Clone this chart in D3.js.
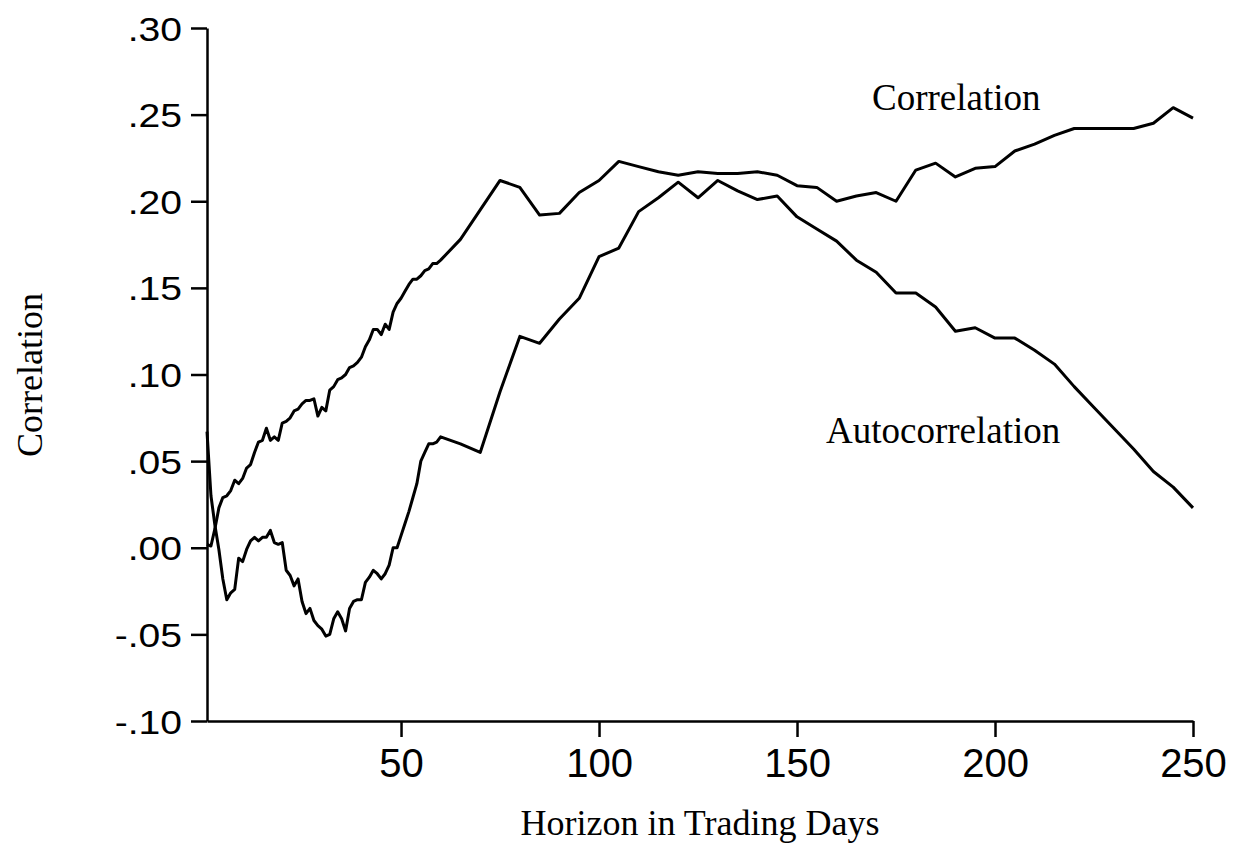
<!DOCTYPE html>
<html lang="en">
  <head>
    <meta charset="utf-8">
    <title>Correlation by horizon</title>
    <style>
      body { margin: 0; background: #fff; }
      svg { display: block; }
    </style>
  </head>
  <body>
    <div id="chart"></div>
  </body>
  <script src="https://cdnjs.cloudflare.com/ajax/libs/d3/7.8.5/d3.min.js"></script>
  <script type="text/javascript">

    // horizon in trading days: daily up to 60, then every 5 days
    const horizons = [
      1, 2, 3, 4, 5, 6, 7, 8, 9, 10, 11, 12, 13, 14, 15, 16, 17, 18, 19, 20,
      21, 22, 23, 24, 25, 26, 27, 28, 29, 30, 31, 32, 33, 34, 35, 36, 37, 38, 39, 40,
      41, 42, 43, 44, 45, 46, 47, 48, 49, 50, 51, 52, 53, 54, 55, 56, 57, 58, 59, 60,
      65, 70, 75, 80, 85, 90, 95, 100, 105, 110, 115, 120, 125, 130, 135, 140, 145, 150,
      155, 160, 165, 170, 175, 180, 185, 190, 195, 200, 205, 210, 215, 220, 225, 230,
      235, 240, 245, 250
    ]

    const correlation = [
      0.002, 0.001, 0.011, 0.023, 0.029, 0.030, 0.033, 0.039, 0.037, 0.040,
      0.046, 0.048, 0.055, 0.061, 0.062, 0.069, 0.062, 0.064, 0.062, 0.072,
      0.073, 0.075, 0.079, 0.080, 0.083, 0.085, 0.085, 0.086, 0.076, 0.081,
      0.079, 0.091, 0.093, 0.097, 0.098, 0.100, 0.104, 0.105, 0.107, 0.110,
      0.116, 0.120, 0.126, 0.126, 0.123, 0.129, 0.126, 0.136, 0.141, 0.144,
      0.148, 0.152, 0.155, 0.155, 0.157, 0.160, 0.161, 0.164, 0.164, 0.166,
      0.178, 0.195, 0.212, 0.208, 0.192, 0.193, 0.205, 0.212, 0.223, 0.220,
      0.217, 0.215, 0.217, 0.216, 0.216, 0.217, 0.215, 0.209, 0.208, 0.200,
      0.203, 0.205, 0.200, 0.218, 0.222, 0.214, 0.219, 0.220, 0.229, 0.233,
      0.238, 0.242, 0.242, 0.242, 0.242, 0.245, 0.254, 0.248
    ]

    const autocorrelation = [
      0.067, 0.030, 0.013, -0.001, -0.018, -0.030, -0.026, -0.024, -0.006, -0.008,
      -0.001, 0.004, 0.006, 0.004, 0.006, 0.006, 0.010, 0.003, 0.002, 0.003,
      -0.013, -0.016, -0.022, -0.018, -0.031, -0.038, -0.035, -0.042, -0.045, -0.047,
      -0.051, -0.050, -0.041, -0.037, -0.041, -0.048, -0.035, -0.031, -0.030, -0.030,
      -0.020, -0.017, -0.013, -0.015, -0.018, -0.015, -0.010, 0.000, 0.000, 0.007,
      0.014, 0.021, 0.029, 0.037, 0.050, 0.055, 0.060, 0.060, 0.061, 0.064,
      0.060, 0.055, 0.090, 0.122, 0.118, 0.132, 0.144, 0.168, 0.173, 0.194,
      0.202, 0.211, 0.202, 0.212, 0.206, 0.201, 0.203, 0.191, 0.184, 0.177,
      0.166, 0.159, 0.147, 0.147, 0.139, 0.125, 0.127, 0.121, 0.121, 0.114,
      0.106, 0.093, 0.081, 0.069, 0.057, 0.044, 0.035, 0.023
    ]

    const xTicks = [50, 100, 150, 200, 250]
    const yTicks = [-0.10, -0.05, 0.00, 0.05, 0.10, 0.15, 0.20, 0.25, 0.30]

    const width = 1235
    const height = 847
    const margin = { top: 28, right: 42, bottom: 126, left: 207 }

    const svg = d3.select('#chart')
      .append('svg')
      .attr('width', width)
      .attr('height', height)

    const x = d3.scaleLinear()
      .domain([1, 250])
      .range([margin.left, width - margin.right])

    const y = d3.scaleLinear()
      .domain([-0.10, 0.30])
      .range([height - margin.bottom, margin.top])

    // ".30", "-.10" style labels with a plain hyphen
    const fmtY = d => d3.format('.2f')(d).replace('\u2212', '-').replace('0.', '.')

    // y axis
    const yAxis = svg.append('g')
      .attr('transform', `translate(${margin.left},0)`)
      .call(d3.axisLeft(y).tickValues(yTicks).tickFormat(fmtY).tickSize(16).tickSizeOuter(0))

    yAxis.selectAll('path, line').attr('stroke', '#000').attr('stroke-width', 2.5)
    yAxis.selectAll('text')
      .attr('x', null)
      .attr('dy', null)
      .attr('text-anchor', 'end')
      .attr('transform', 'translate(-25,12) scale(1.15,1)')
      .style('font-family', '"Liberation Sans", Arial, sans-serif')
      .style('font-size', '34px')
      .attr('fill', '#000')

    // x axis
    const xAxis = svg.append('g')
      .attr('transform', `translate(0,${height - margin.bottom})`)
      .call(d3.axisBottom(x).tickValues(xTicks).tickSize(16).tickSizeOuter(0))

    xAxis.selectAll('path, line').attr('stroke', '#000').attr('stroke-width', 2.5)
    xAxis.selectAll('text')
      .attr('dy', null)
      .attr('y', 56)
      .style('font-family', '"Liberation Sans", Arial, sans-serif')
      .style('font-size', '40px')
      .attr('fill', '#000')

    // lines
    const line = d3.line()
      .x((d, i) => x(horizons[i]))
      .y(d => y(d))

    const series = [correlation, autocorrelation]
    svg.selectAll('.series')
      .data(series)
      .enter()
      .append('path')
      .attr('class', 'series')
      .attr('d', line)
      .attr('fill', 'none')
      .attr('stroke', '#000')
      .attr('stroke-width', 3)
      .attr('stroke-linejoin', 'round')

    // labels
    const serif = '"Liberation Serif", "Times New Roman", serif'

    svg.append('text')
      .attr('x', 872)
      .attr('y', 110)
      .text('Correlation')
      .style('font-family', serif)
      .style('font-size', '37px')

    svg.append('text')
      .attr('x', 826)
      .attr('y', 443)
      .text('Autocorrelation')
      .style('font-family', serif)
      .style('font-size', '37px')

    svg.append('text')
      .attr('x', (margin.left + width - margin.right) / 2)
      .attr('y', 835)
      .attr('text-anchor', 'middle')
      .text('Horizon in Trading Days')
      .style('font-family', serif)
      .style('font-size', '36px')

    svg.append('text')
      .attr('transform', 'translate(42,375) rotate(-90)')
      .attr('text-anchor', 'middle')
      .text('Correlation')
      .style('font-family', serif)
      .style('font-size', '36px')

  </script>
</html>
